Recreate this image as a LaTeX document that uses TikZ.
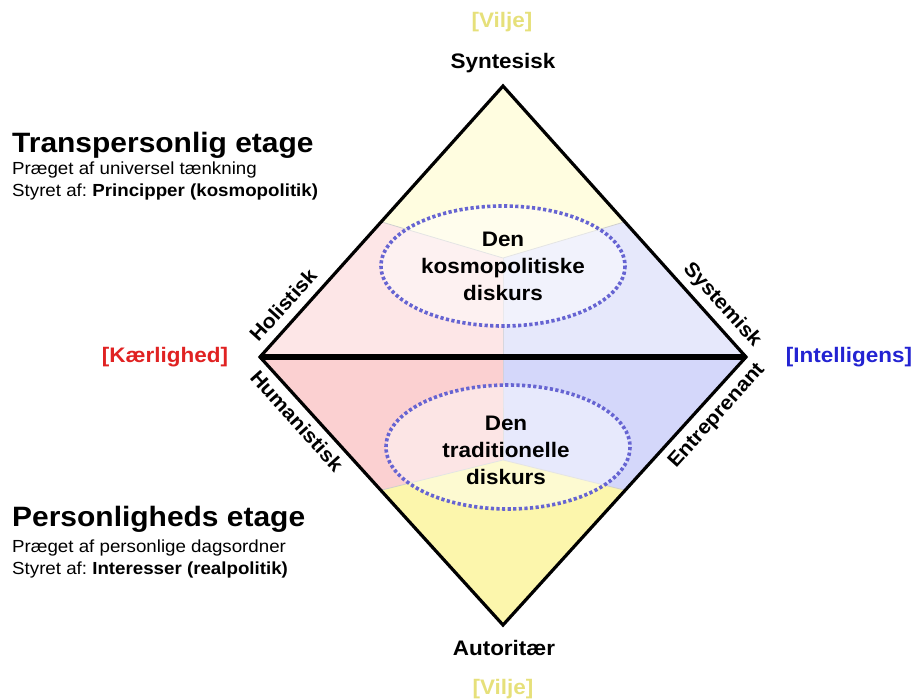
\documentclass[tikz,border=0pt]{standalone}
\usepackage{fontspec}
\setmainfont{Liberation Sans}[FakeStretch=1.07]
\frenchspacing
\definecolor{ylwA}{HTML}{FFFDE0}
\definecolor{pnkA}{HTML}{FDE6E7}
\definecolor{bluA}{HTML}{E6E8FB}
\definecolor{ylwB}{HTML}{FCF6AC}
\definecolor{pnkB}{HTML}{FBD0D1}
\definecolor{bluB}{HTML}{D4D7FA}
\definecolor{vilje}{HTML}{E6E07A}
\definecolor{loveR}{HTML}{E02222}
\definecolor{intB}{HTML}{2323D2}
\definecolor{dotB}{HTML}{6664D2}
\definecolor{sepG}{HTML}{CFCFCF}
\tikzset{
  big/.style={font=\fontsize{21}{27}\selectfont\bfseries, inner sep=0pt, align=center},
  edgelbl/.style={font=\fontsize{20}{24}\selectfont\bfseries, inner sep=0pt},
  head/.style={font=\fontsize{28}{32}\selectfont\bfseries, inner sep=0pt, anchor=base west},
  sub/.style={font=\fontsize{17.5}{21}\selectfont, inner sep=0pt, anchor=base west},
  sep/.style={draw=sepG, line width=0.8pt},
  disc/.style={draw=dotB, line width=3.6pt, dash pattern=on 3.2pt off 2.4pt, fill=white, fill opacity=0.45},
}
\begin{document}
\begin{tikzpicture}[x=1pt,y=-1pt]
\useasboundingbox (0,0) rectangle (916,699);
\coordinate (T) at (503,86);
\coordinate (B) at (503,625);
\coordinate (L) at (260,357);
\coordinate (R) at (746,357);
\coordinate (C) at (503,357);
\coordinate (J1) at (503,258);
\coordinate (J2) at (503,460);
\begin{scope}
  \clip (T) -- (R) -- (B) -- (L) -- cycle;
  % upper half
  \fill[pnkA] (200,0) rectangle (503,357);
  \fill[bluA] (503,0) rectangle (806,357);
  \fill[ylwA] (200,168) -- (J1) -- (806,168) -- (806,0) -- (200,0) -- cycle;
  % lower half
  \fill[pnkB] (200,357) rectangle (503,700);
  \fill[bluB] (503,357) rectangle (806,700);
  \fill[ylwB] (200,535) -- (J2) -- (806,535) -- (806,700) -- (200,700) -- cycle;
  % separators
  \draw[sep] (200,168) -- (J1) -- (806,168);
  \draw[sep] (J1) -- (C) -- (J2);
  \draw[sep] (200,535) -- (J2) -- (806,535);
\end{scope}
% discourse ellipses
\draw[disc] (503,266) ellipse [x radius=122, y radius=60];
\draw[disc] (508,447) ellipse [x radius=122, y radius=62];
\node[big] (kosmo) at (503,266) {Den\\kosmopolitiske\\diskurs};
\node[big] (trad) at (506,450) {Den\\traditionelle\\diskurs};
% diamond
\draw[line width=3.2pt, line join=miter] (T) -- (R) -- (B) -- (L) -- cycle;
\draw[line width=6.5pt] (L) -- (R);
% vertex labels
\node[big, text=vilje] (viljeT) at (502,22) {[Vilje]};
\node[big] (syn) at (503,63) {Syntesisk};
\node[big] (aut) at (504,648) {Autoritær};
\node[big, text=vilje] (viljeB) at (503,689) {[Vilje]};
\node[big, text=loveR] (love) at (165,357) {[Kærlighed]};
\node[big, text=intB] (intel) at (849,357) {[Intelligens]};
% edge labels
\node[edgelbl, rotate=48] (hol) at (283,305) {Holistisk};
\node[edgelbl, rotate=-48] (hum) at (297,421) {Humanistisk};
\node[edgelbl, rotate=-48] (sys) at (722,305) {Systemisk};
\node[edgelbl, rotate=48] (ent) at (717,416) {Entreprenant};
% left texts
\node[head] (tp) at (12,152) {Transpersonlig etage};
\node[sub] (tp1) at (12,174) {Præget af universel tænkning};
\node[sub] (tp2) at (12,196) {Styret af: \textbf{Principper (kosmopolitik)}};
\node[head] (pe) at (12,526) {Personligheds etage};
\node[sub] (pe1) at (12,552) {Præget af personlige dagsordner};
\node[sub] (pe2) at (12,574) {Styret af: \textbf{Interesser (realpolitik)}};
\end{tikzpicture}
\end{document}
